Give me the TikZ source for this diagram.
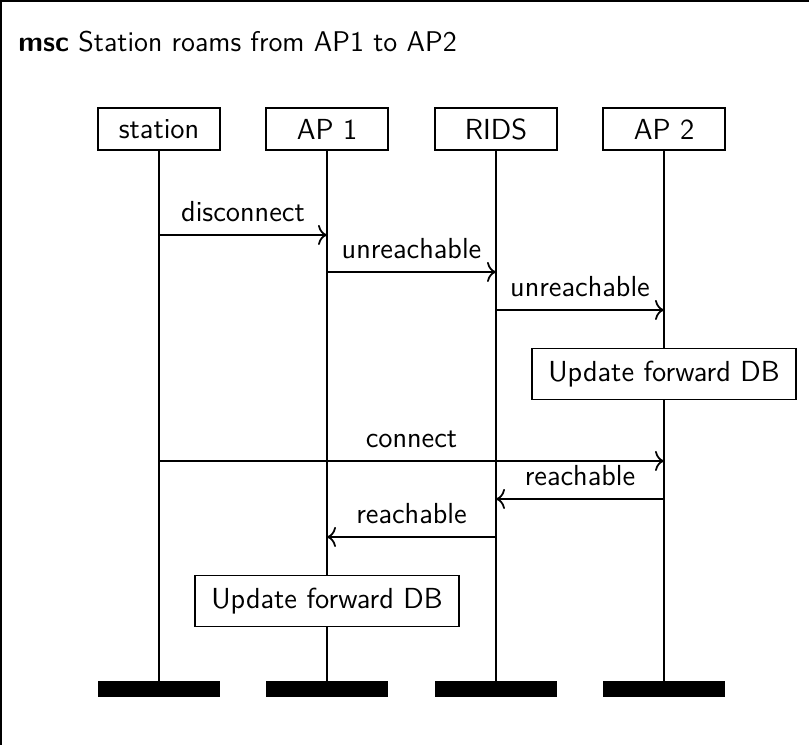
\documentclass[tikz,border=0pt]{standalone}
\usetikzlibrary{arrows.meta}
\begin{document}
\begin{tikzpicture}[x=0.4pt,y=-0.4pt,font=\sffamily\fontsize{11.6}{14}\selectfont,
  inst/.style={draw,line width=0.7pt,minimum width=48.8pt,minimum height=16.8pt,inner sep=0pt},
  instend/.style={fill=black,minimum width=48.8pt,minimum height=6.2pt,inner sep=0pt},
  life/.style={line width=0.9pt},
  msg/.style={-{To[length=3.6pt,width=8pt]},line width=0.7pt},
  lbl/.style={anchor=base,inner sep=0pt,yshift=5.2pt},
  act/.style={draw,fill=white,line width=0.7pt,minimum width=105.6pt,minimum height=20.4pt,inner sep=0pt}]
\useasboundingbox (0,0) rectangle (809,745);
\clip (0,0) rectangle (809,745);
% outer frame of the chart
\draw[line width=0.8pt] (1,1) rectangle (900,900);
\node[anchor=west,inner sep=0pt] (title) at (18,42) {\fontsize{11.4}{14}\selectfont\textbf{msc} Station roams from AP1 to AP2};
% instance heads
\node[inst] (hs)  at (159,129) {station};
\node[inst] (ha1) at (327,129) {AP 1};
\node[inst] (hr)  at (496,129) {RIDS};
\node[inst] (ha2) at (664,129) {AP 2};
% instance ends
\node[instend] (es)  at (159,689) {};
\node[instend] (ea1) at (327,689) {};
\node[instend] (er)  at (496,689) {};
\node[instend] (ea2) at (664,689) {};
% lifelines
\draw[life] (hs) -- (es);
\draw[life] (ha1) -- (ea1);
\draw[life] (hr) -- (er);
\draw[life] (ha2) -- (ea2);
% message end points
\coordinate (m1a) at (159,235); \coordinate (m1b) at (327,235);
\coordinate (m2a) at (327,272); \coordinate (m2b) at (496,272);
\coordinate (m3a) at (496,310); \coordinate (m3b) at (664,310);
\coordinate (m4a) at (159,461); \coordinate (m4b) at (664,461);
\coordinate (m5a) at (664,499); \coordinate (m5b) at (496,499);
\coordinate (m6a) at (496,537); \coordinate (m6b) at (327,537);
% messages
\draw[msg] (m1a) -- (m1b) node[lbl,midway] (l1) {disconnect};
\draw[msg] (m2a) -- (m2b) node[lbl,midway] (l2) {unreachable};
\draw[msg] (m3a) -- (m3b) node[lbl,midway] (l3) {unreachable};
\draw[msg] (m4a) -- (m4b) node[lbl,midway] (l4) {connect};
\draw[msg] (m5a) -- (m5b) node[lbl,midway] (l5) {reachable};
\draw[msg] (m6a) -- (m6b) node[lbl,midway] (l6) {reachable};
% local actions
\node[act] (act1) at (664,374) {Update forward DB};
\node[act] (act2) at (327,601) {Update forward DB};
\end{tikzpicture}
\end{document}
